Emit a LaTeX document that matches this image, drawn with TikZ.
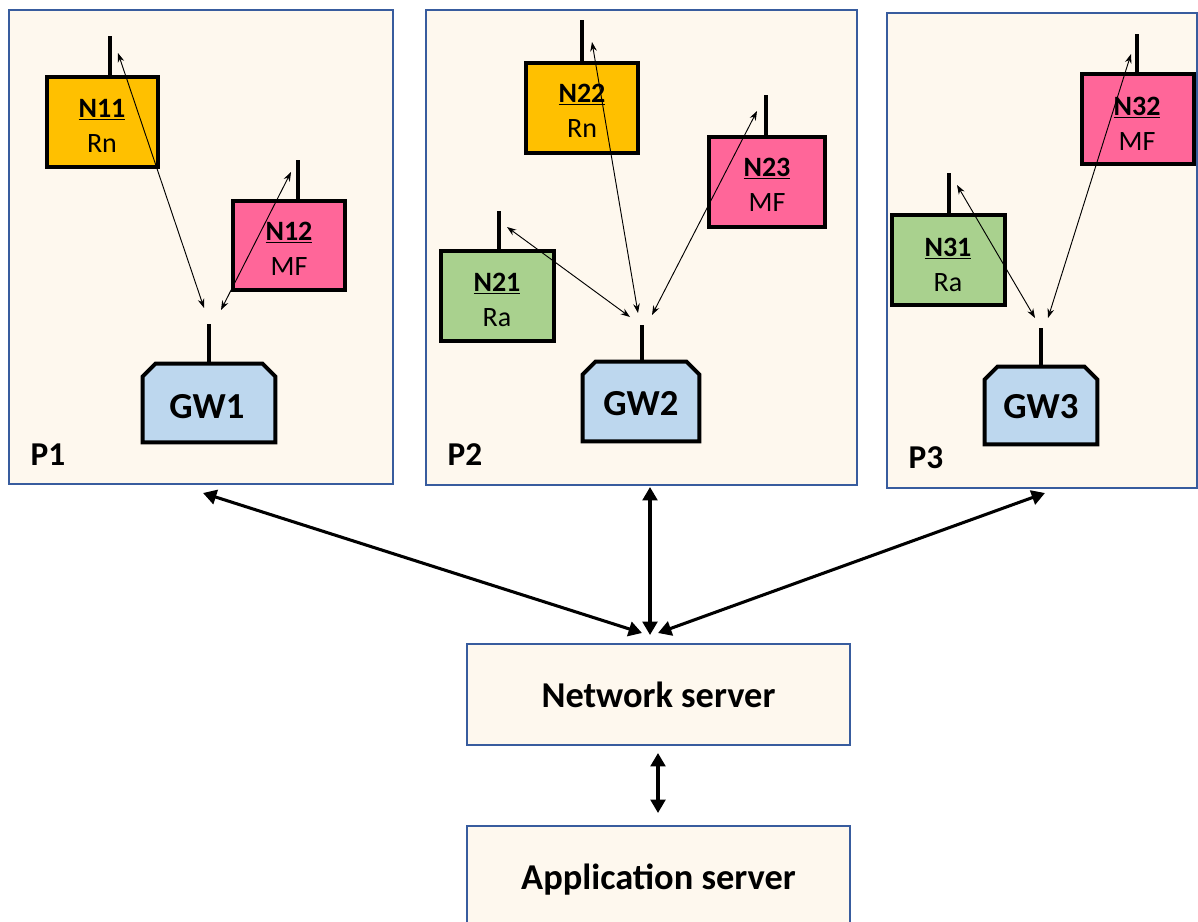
\documentclass[tikz,border=0pt]{standalone}
\usepackage{fontspec}
\setmainfont{Carlito}
\usetikzlibrary{arrows.meta}
\definecolor{panelfill}{HTML}{FEF8EE}
\definecolor{panelblue}{HTML}{385C9E}
\definecolor{rnfill}{HTML}{FFC000}
\definecolor{mffill}{HTML}{FF6699}
\definecolor{rafill}{HTML}{A9D18E}
\definecolor{gwfill}{HTML}{BDD7EE}
\newcommand{\pxd}[1]{#1*0.75pt}
\begin{document}
\begin{tikzpicture}[x=0.75pt,y=-0.75pt,
  panel/.style={draw=panelblue, line width=1.9pt, fill=panelfill, inner sep=0pt},
  dev/.style={draw=black, line width=2.3pt, inner sep=0pt},
  devtext/.style={align=center, inner sep=0pt, font=\fontsize{21}{26.5}\selectfont},
  gw/.style={draw=none, inner sep=0pt},
  gwline/.style={draw=black, line width=3pt, fill=gwfill},
  gwtext/.style={inner sep=0pt, font=\bfseries\fontsize{27.5}{30}\selectfont},
  ant/.style={line width=3pt},
  link/.style={{Stealth[length=7pt,width=5pt]}-{Stealth[length=7pt,width=5pt]}, line width=0.7pt},
  bigarrow/.style={{Triangle[length=10pt,width=11pt]}-{Triangle[length=10pt,width=11pt]}, line width=2.3pt},
  server/.style={panel, font=\bfseries\fontsize{27.3}{30}\selectfont},
  plabel/.style={font=\bfseries\fontsize{25}{28}\selectfont}]
\useasboundingbox (0,0) rectangle (1198,921);
\clip (0,0) rectangle (1198,921);
% panels
\node[panel, minimum width=\pxd{384}, minimum height=\pxd{474}] (P1) at (201,247) {};
\node[panel, minimum width=\pxd{431}, minimum height=\pxd{475}] (P2) at (641.5,247.5) {};
\node[panel, minimum width=\pxd{310}, minimum height=\pxd{475}] (P3) at (1042,250.5) {};
\node[plabel] (L1) at (48,455) {P1};
\node[plabel] (L2) at (465,455) {P2};
\node[plabel] (L3) at (926,458) {P3};
% devices
\node[dev, fill=rnfill, minimum width=\pxd{111}, minimum height=\pxd{90}] (N11) at (102.5,122) {};
\node[dev, fill=mffill, minimum width=\pxd{112}, minimum height=\pxd{89}] (N12) at (289,245.5) {};
\node[dev, fill=rnfill, minimum width=\pxd{112}, minimum height=\pxd{90}] (N22) at (582,108) {};
\node[dev, fill=mffill, minimum width=\pxd{116}, minimum height=\pxd{90}] (N23) at (767,182) {};
\node[dev, fill=rafill, minimum width=\pxd{113}, minimum height=\pxd{90}] (N21) at (497.5,296) {};
\node[dev, fill=mffill, minimum width=\pxd{112}, minimum height=\pxd{90}] (N32) at (1138,119) {};
\node[dev, fill=rafill, minimum width=\pxd{113}, minimum height=\pxd{90}] (N31) at (948.5,260) {};
\node[devtext] (T11) at (102,126) {\underline{\textbf{N11}}\\Rn};
\node[devtext] (T12) at (289,249) {\underline{\textbf{N12}}\\MF};
\node[devtext] (T22) at (582,111) {\underline{\textbf{N22}}\\Rn};
\node[devtext] (T23) at (767,185) {\underline{\textbf{N23}}\\MF};
\node[devtext] (T21) at (497,300) {\underline{\textbf{N21}}\\Ra};
\node[devtext] (T32) at (1137,124) {\underline{\textbf{N32}}\\MF};
\node[devtext] (T31) at (948,265) {\underline{\textbf{N31}}\\Ra};
% gateways
\node[gw, minimum width=\pxd{132}, minimum height=\pxd{78}] (GW1) at (209,403) {};
\node[gw, minimum width=\pxd{116}, minimum height=\pxd{79}] (GW2) at (641,401.5) {};
\node[gw, minimum width=\pxd{112}, minimum height=\pxd{77}] (GW3) at (1041,405.5) {};
\foreach \g in {GW1,GW2,GW3}{
  \draw[gwline] (\g.south west) -- ([yshift=-9.5pt]\g.north west) -- ([xshift=9.5pt]\g.north west)
    -- ([xshift=-9.5pt]\g.north east) -- ([yshift=-9.5pt]\g.north east) -- (\g.south east) -- cycle;
}
\node[gwtext] (TG1) at (207,407) {GW1};
\node[gwtext] (TG2) at (641,404) {GW2};
\node[gwtext] (TG3) at (1041,407) {GW3};
% antennas
\draw[ant] ([xshift=\pxd{7.5}]N11.north) -- ++(0,-39);
\draw[ant] ([xshift=\pxd{9}]N12.north) -- ++(0,-39);
\draw[ant] (N22.north) -- ++(0,-41);
\draw[ant] ([xshift=\pxd{-1}]N23.north) -- ++(0,-40);
\draw[ant] ([xshift=\pxd{1.5}]N21.north) -- ++(0,-38);
\draw[ant] ([xshift=\pxd{-1}]N32.north) -- ++(0,-38);
\draw[ant] ([xshift=\pxd{0.5}]N31.north) -- ++(0,-40);
\draw[ant] (GW1.north) -- ++(0,-40);
\draw[ant] ([xshift=\pxd{1}]GW2.north) -- ++(0,-37);
\draw[ant] (GW3.north) -- ++(0,-39);
% servers
\node[server, minimum width=\pxd{383}, minimum height=\pxd{101}] (NS) at (658.5,694.5) {Network server};
\node[server, minimum width=\pxd{383}, minimum height=\pxd{108}] (AS) at (658.5,880) {Application server};
% link end points
\coordinate (n11) at (118,53);   \coordinate (g1a) at (204,308);
\coordinate (n12) at (291,172);  \coordinate (g1b) at (221,310);
\coordinate (n22) at (592,42);   \coordinate (g2a) at (638,313);
\coordinate (n23) at (757,111);  \coordinate (g2b) at (652,315);
\coordinate (n21) at (507,227);  \coordinate (g2c) at (630,317);
\coordinate (n31) at (957,185);  \coordinate (g3a) at (1035,318);
\coordinate (n32) at (1131,54);  \coordinate (g3b) at (1048,318);
\draw[link] (n11) -- (g1a);
\draw[link] (n12) -- (g1b);
\draw[link] (n22) -- (g2a);
\draw[link] (n23) -- (g2b);
\draw[link] (n21) -- (g2c);
\draw[link] (n31) -- (g3a);
\draw[link] (n32) -- (g3b);
% backbone
\coordinate (p1b) at (203,493);  \coordinate (ns1) at (642,633);
\coordinate (p2b) at (650,487);  \coordinate (ns2) at (650,635);
\coordinate (p3b) at (1045,493); \coordinate (ns3) at (658,633);
\coordinate (nsb) at (658,753);  \coordinate (ast) at (658,813);
\draw[bigarrow] (p1b) -- (ns1);
\draw[bigarrow] (p2b) -- (ns2);
\draw[bigarrow] (p3b) -- (ns3);
\draw[bigarrow] (nsb) -- (ast);
\end{tikzpicture}
\end{document}
